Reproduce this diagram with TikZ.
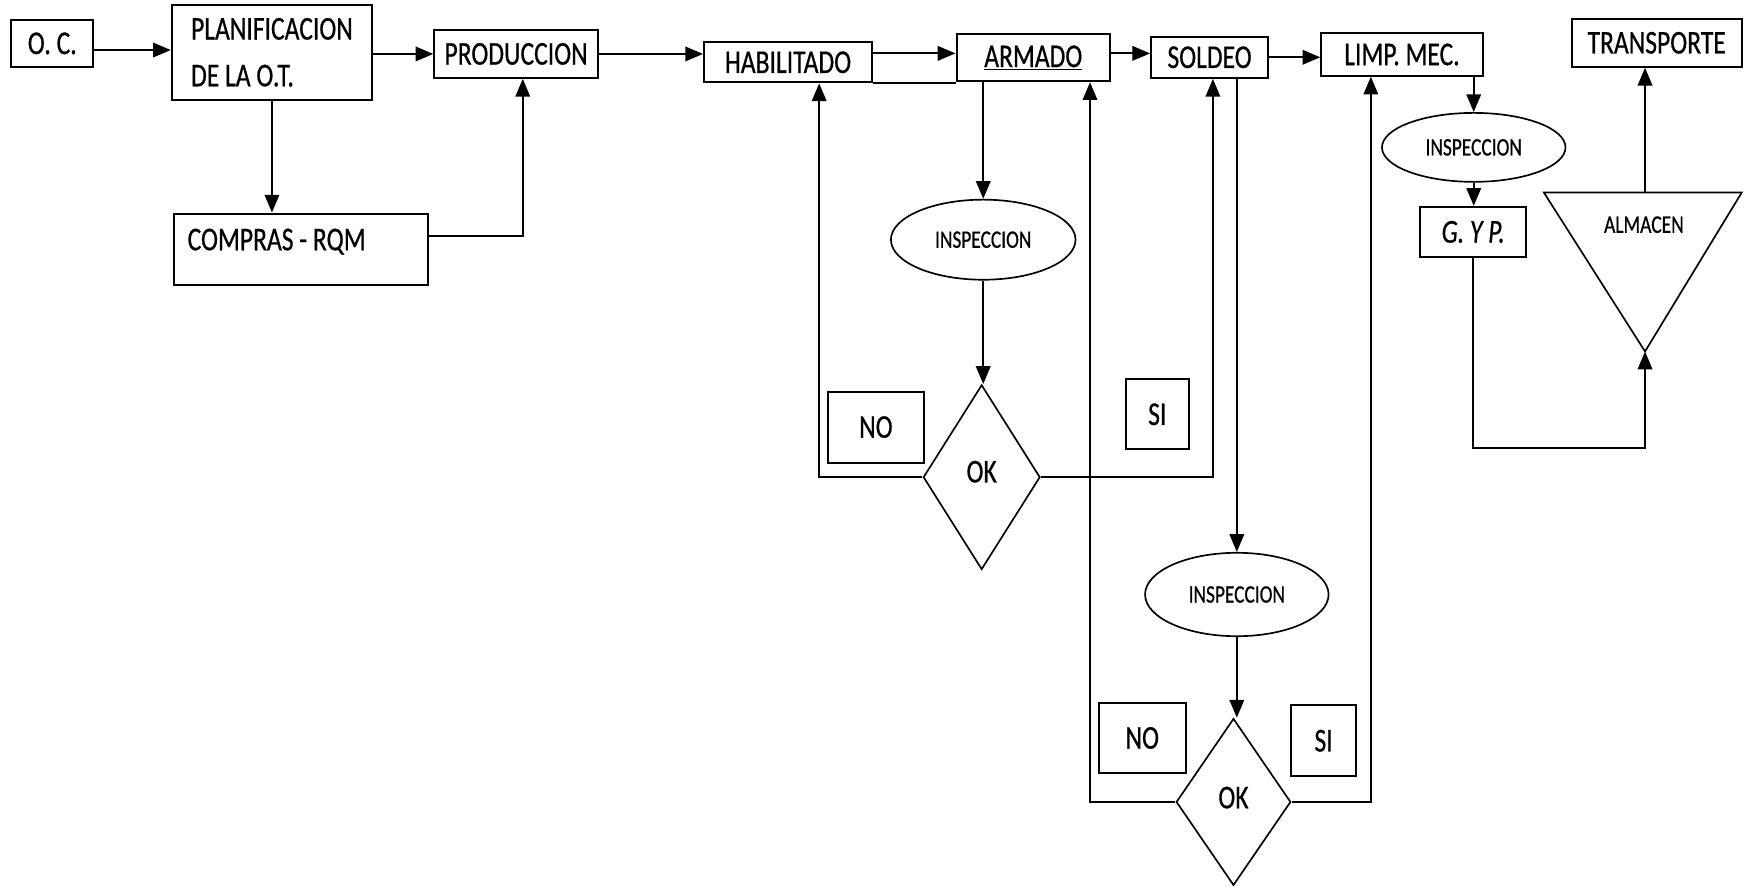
\documentclass[tikz,border=0pt]{standalone}
\usepackage{graphicx}
\usepackage{fontspec}
\setmainfont{Carlito}
\newfontfamily\hvy{Carlito}[FakeBold=0.7]
\usetikzlibrary{arrows.meta,shapes.geometric,calc}
\newcommand{\tx}[1]{\scalebox{1}[1.3]{#1}}
\begin{document}
\begin{tikzpicture}[x=1pt,y=-1pt,
  box/.style={draw,line width=1.8pt,inner sep=0pt,font=\hvy\fontsize{23}{28}\selectfont},
  ell/.style={draw,ellipse,line width=1.5pt,inner sep=0pt,font=\hvy\fontsize{17.4}{20}\selectfont},
  dia/.style={draw,diamond,line width=1.5pt,inner sep=0pt,font=\hvy\fontsize{23}{28}\selectfont},
  txt/.style={inner sep=0pt,font=\hvy\fontsize{23}{28}\selectfont},
  ln/.style={line width=1.9pt},
  arr/.style={ln,-{Triangle[length=16pt,width=13pt]}}]
\useasboundingbox (0,0) rectangle (1568,798);
\fill[white] (0,0) rectangle (1568,798);

% boxes
\node[box,minimum width=74pt,minimum height=42pt] (oc) at (47,39) {\raisebox{-3pt}{\tx{O. C.}}};
\node[box,minimum width=180pt,minimum height=85pt,align=left,font=\hvy\fontsize{23}{42}\selectfont] (plan) at (244.5,47) {\tx{PLANIFICACION}\\\tx{DE LA O.T.}};
\node[box,minimum width=147pt,minimum height=43pt] (prod) at (464,48.5) {\tx{PRODUCCION}};
\node[box,minimum width=228.5pt,minimum height=64pt] (compras) at (270.25,224) {};
\node[txt,anchor=base west] (comprasT) at (168.5,225) {\tx{COMPRAS - RQM}};
\node[box,minimum width=151pt,minimum height=36pt] (hab) at (708.5,56) {\tx{HABILITADO}};
\node[box,minimum width=138pt,minimum height=42pt] (arm) at (929,52) {\tx{\underline{ARMADO}}\hspace{20pt}};
\node[box,minimum width=105pt,minimum height=37pt] (sol) at (1087.5,51.5) {\tx{SOLDEO}};
\node[box,minimum width=145pt,minimum height=38pt] (limp) at (1260.5,49) {\tx{LIMP. MEC.}};
\node[box,minimum width=153pt,minimum height=43pt] (trans) at (1489.5,38.5) {\tx{TRANSPORTE}};
\node[box,minimum width=95pt,minimum height=45pt] (gyp) at (1324.5,208.5) {\tx{\itshape G. Y P.}};

% inspections and decisions
\node[ell,minimum width=166pt,minimum height=72pt] (insp1) at (884,215.5) {\tx{INSPECCION}};
\node[dia,minimum width=105pt,minimum height=166pt] (ok1) at (882.6,429) {\raisebox{10pt}{\tx{OK}}};
\node[box,minimum width=87pt,minimum height=64pt] (no1) at (787.5,384) {\tx{NO}};
\node[box,minimum width=57pt,minimum height=63pt] (si1) at (1040.5,372.5) {\tx{SI}};

\node[ell,minimum width=165pt,minimum height=75pt] (insp2) at (1112,534.5) {\tx{INSPECCION}};
\node[dia,minimum width=103pt,minimum height=150pt] (ok2) at (1109,721) {\raisebox{8pt}{\tx{OK}}};
\node[box,minimum width=78pt,minimum height=63pt] (no2) at (1027,663.5) {\tx{NO}};
\node[box,minimum width=58pt,minimum height=64pt] (si2) at (1190,666) {\tx{SI}};

\node[ell,minimum width=165pt,minimum height=62pt] (insp3) at (1325,132.5) {\tx{INSPECCION}};

% almacen (inverted triangle)
\coordinate (tl) at (1388,173);
\coordinate (tr) at (1566,173);
\coordinate (ap) at (1479,316);
\draw[line width=1.5pt,line join=miter] (tl) -- (tr) -- (ap) -- cycle;
\node[txt,font=\hvy\fontsize{17.5}{20}\selectfont] (alm) at (1478,202) {\tx{ALMACEN}};

% connectors
\draw[arr] ([yshift=-6pt]oc.east) -- ([yshift=-6pt]oc.east -| plan.west);
\draw[arr] (plan.east |- prod.west) -- (prod.west);
\draw[arr] (plan.south) -- (plan.south |- compras.north);
\draw[arr] ([yshift=5pt]compras.east |- comprasT) -| ([xshift=6pt]prod.south);
\draw[arr] (prod.east) -- (prod.east -| hab.west);
\draw[arr] ([yshift=4pt]arm.west -| hab.east) -- ([yshift=4pt]arm.west);
\draw[ln] (hab.south east) -- (hab.south east -| arm.west);
\draw[arr] ([yshift=4pt]arm.east) -- ([yshift=4pt]arm.east -| sol.west);
\draw[arr] (sol.east) -- (sol.east -| limp.west);
\draw[arr] (arm.south -| insp1.north) -- (insp1.north);
\draw[arr] (insp1.south) -- (insp1.south |- ok1.north);
\draw[arr] (ok1.west) -| ([xshift=28pt]hab.south);
\draw[arr] (ok1.east) -| ([xshift=3pt]sol.south);
\draw[arr] (sol.south -| insp2.north) -- (insp2.north);
\draw[arr] (insp2.south) -- (insp2.south |- ok2.north);
\draw[arr] (ok2.west) -| ([xshift=51pt]arm.south);
\draw[arr] (ok2.east) -| ([xshift=-28pt]limp.south);
\draw[arr] (limp.south -| insp3.north) -- (insp3.north);
\draw[arr] (insp3.south) -- (insp3.south |- gyp.north);
\draw[arr] (gyp.south) |- ([yshift=-87pt]ap) -- (ap);
\draw[arr] (ap |- tl) -- (ap |- trans.south);
\end{tikzpicture}
\end{document}
